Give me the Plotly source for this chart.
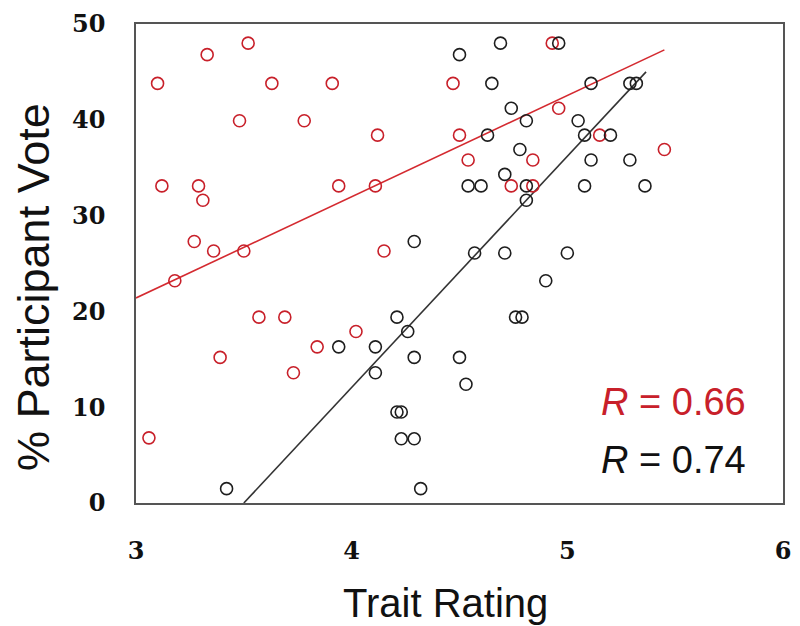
import plotly.graph_objects as go

# Red series (trait rating, % participant vote)
red_x = [3.10, 3.33, 3.52, 3.63, 3.91, 3.48, 3.78, 4.12, 4.47, 4.50,
         3.12, 3.29, 3.31, 3.94, 4.11, 3.27, 3.36, 3.50, 4.15, 3.18,
         3.57, 3.69, 3.39, 3.73, 3.84, 4.02, 3.06, 4.93, 4.96, 5.15,
         5.45, 4.54, 4.84, 4.74, 4.84]
red_y = [43.8, 46.8, 48.0, 43.8, 43.8, 39.9, 39.9, 38.4, 43.8, 38.4,
         33.1, 33.1, 31.6, 33.1, 33.1, 27.3, 26.3, 26.3, 26.3, 23.2,
         19.4, 19.4, 15.2, 13.6, 16.3, 17.9, 6.8, 48.0, 41.2, 38.4,
         36.9, 35.8, 35.8, 33.1, 33.1]

# Black series
black_x = [4.29, 3.94, 3.42, 4.21, 4.26, 4.11, 4.11, 4.29, 4.21, 4.23,
           4.23, 4.29, 4.32, 4.50, 4.53, 4.90, 4.76, 4.79, 4.57, 4.71,
           5.00, 4.50, 4.69, 4.96, 4.65, 5.11, 5.29, 5.32, 4.74, 4.81,
           5.05, 4.63, 5.08, 5.20, 4.78, 5.11, 5.29, 4.71, 4.54, 4.60,
           4.81, 5.08, 5.36, 4.81]
black_y = [27.3, 16.3, 1.5, 19.4, 17.9, 16.3, 13.6, 15.2, 9.5, 9.5,
           6.7, 6.7, 1.5, 15.2, 12.4, 23.2, 19.4, 19.4, 26.1, 26.1,
           26.1, 46.8, 48.0, 48.0, 43.8, 43.8, 43.8, 43.8, 41.2, 39.9,
           39.9, 38.4, 38.4, 38.4, 36.9, 35.8, 35.8, 34.3, 33.1, 33.1,
           33.1, 33.1, 33.1, 31.6]

# Trend line end points
red_trend_x = [3.0, 5.45]
red_trend_y = [21.4, 47.3]
black_trend_x = [3.50, 5.365]
black_trend_y = [0.0, 45.0]

x_ticks = [3, 4, 5, 6]
y_ticks = [0, 10, 20, 30, 40, 50]

RED = "#C8202A"
BLACK = "#1e1e1e"

fig = go.Figure()
fig.add_trace(go.Scatter(x=red_trend_x, y=red_trend_y, mode="lines",
                         line=dict(color="#D42A30", width=1.6), hoverinfo="skip"))
fig.add_trace(go.Scatter(x=black_trend_x, y=black_trend_y, mode="lines",
                         line=dict(color="#333333", width=1.6), hoverinfo="skip"))
fig.add_trace(go.Scatter(x=red_x, y=red_y, mode="markers",
                         marker=dict(symbol="circle-open", size=12, color=RED,
                                     line=dict(width=1.6, color=RED))))
fig.add_trace(go.Scatter(x=black_x, y=black_y, mode="markers",
                         marker=dict(symbol="circle-open", size=12, color=BLACK,
                                     line=dict(width=1.6, color=BLACK))))

tickfont = dict(family="DejaVu Serif", size=24, color="#111", weight="bold")

fig.update_xaxes(range=[3, 6], tickvals=x_ticks, ticktext=[str(v) for v in x_ticks],
                 showgrid=False, zeroline=False, showline=True, mirror=True,
                 linecolor="#555", linewidth=1.5, ticks="", tickfont=tickfont,
                 ticklabelstandoff=25)
fig.update_yaxes(range=[0, 50], tickvals=y_ticks, ticktext=[str(v) for v in y_ticks],
                 showgrid=False, zeroline=False, showline=True, mirror=True,
                 linecolor="#555", linewidth=1.5, ticks="", tickfont=tickfont,
                 ticklabelstandoff=24)

fig.update_layout(
    width=800, height=626,
    margin=dict(l=136, r=9, t=22, b=123),
    paper_bgcolor="white", plot_bgcolor="white",
    showlegend=False,
    annotations=[
        dict(text="% Participant Vote", xref="paper", yref="paper", x=0, y=0.451,
             xshift=-102, textangle=-90, showarrow=False, xanchor="center", yanchor="middle",
             font=dict(family="Liberation Sans", size=45, color="#111")),
        dict(text="Trait Rating", xref="paper", yref="paper", x=0.478, y=0,
             yshift=-100, showarrow=False, xanchor="center", yanchor="middle",
             font=dict(family="Liberation Sans", size=40, color="#111")),
        dict(text="<i>R</i> = 0.66", xref="x", yref="y", x=5.84, y=10.5,
             showarrow=False, xanchor="right", yanchor="middle",
             font=dict(family="Liberation Sans", size=38, color="#C8202A")),
        dict(text="<i>R</i> = 0.74", xref="x", yref="y", x=5.84, y=4.5,
             showarrow=False, xanchor="right", yanchor="middle",
             font=dict(family="Liberation Sans", size=38, color="#111")),
    ],
)

fig.write_html("out.html")
